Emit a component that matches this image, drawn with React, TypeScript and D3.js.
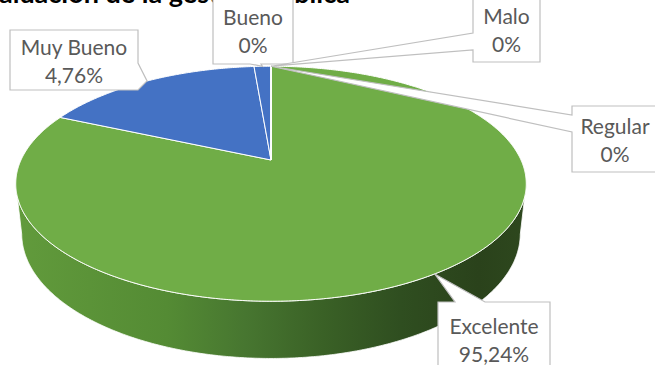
import React from 'react';
import * as d3 from 'd3';

// ---- data ----
const categories = ['Excelente', 'Muy Bueno', 'Bueno', 'Regular', 'Malo'];
// slice sizes as drawn in the reference picture (share of the disk)
const sliceValues = [81.7, 17.0, 1.3, 0, 0];
// percentage texts shown in the callouts
const labelTexts = ['95,24%', '4,76%', '0%', '0%', '0%'];
const sliceColors = ['#70ad47', '#4472c4', '#4472c4', '#a5a5a5', '#ffc000'];
const titleText = 'Evaluación de la gestión pública';

// ---- layout ----
const W = 655;
const H = 365;
const CX = 271;
const CY = 160;
const PHI = (26.8 * Math.PI) / 180;
const DIST = 4.42;
const FOCAL = 1105;
const DEPTH = 0.225;

// callout boxes (layout only), one per category
const callouts = [
  { x: 438, y: 302, w: 112, h: 74, side: 'top', a: 455, b: 485 },
  { x: 10, y: 30, w: 128, h: 60, side: 'right', a: 63, b: 90 },
  { x: 213, y: -4, w: 80, h: 68, side: 'bottom', a: 250, b: 261 },
  { x: 572, y: 106, w: 86, h: 66, side: 'left', a: 115, b: 132 },
  { x: 473, y: -4, w: 67, h: 66, side: 'left', a: 33, b: 50 },
];

function project(theta: number, yw: number): [number, number] {
  const X = Math.sin(theta);
  const Z = Math.cos(theta);
  const s = Math.sin(PHI);
  const c = Math.cos(PHI);
  const yc = Z * s + yw * c;
  const dep = DIST + Z * c - yw * s;
  return [CX + (FOCAL * X) / dep, CY - (FOCAL * yc) / dep];
}
function projectCenter(yw: number): [number, number] {
  const s = Math.sin(PHI);
  const c = Math.cos(PHI);
  const dep = DIST - yw * s;
  return [CX, CY - (FOCAL * yw * c) / dep];
}

function rimPoints(a0: number, a1: number, yw: number) {
  const pts: [number, number][] = [];
  const n = Math.max(2, Math.ceil(Math.abs(a1 - a0) / (Math.PI / 360)));
  for (let i = 0; i <= n; i++) pts.push(project(a0 + ((a1 - a0) * i) / n, yw));
  return pts;
}

function calloutPath(cfg: any, tip: [number, number]) {
  const { x, y, w, h, side, a, b } = cfg;
  const p = d3.path();
  p.moveTo(x, y);
  if (side === 'top') {
    p.lineTo(a, y);
    p.lineTo(tip[0], tip[1]);
    p.lineTo(b, y);
  }
  p.lineTo(x + w, y);
  if (side === 'right') {
    p.lineTo(x + w, a);
    p.lineTo(tip[0], tip[1]);
    p.lineTo(x + w, b);
  }
  p.lineTo(x + w, y + h);
  if (side === 'bottom') {
    p.lineTo(b, y + h);
    p.lineTo(tip[0], tip[1]);
    p.lineTo(a, y + h);
  }
  p.lineTo(x, y + h);
  if (side === 'left') {
    p.lineTo(x, b);
    p.lineTo(tip[0], tip[1]);
    p.lineTo(x, a);
  }
  p.closePath();
  return p.toString();
}

export default function App() {
  const pie = d3
    .pie<number>()
    .sort(null)
    .startAngle(0)
    .endAngle(2 * Math.PI)(sliceValues);

  const line = d3.line();

  // silhouette of the cylinder side
  const cRatio = Math.cos(PHI) / DIST;
  const silR = Math.acos(-cRatio);
  const silL = 2 * Math.PI - silR;

  const sides: { d: string; i: number }[] = [];
  pie.forEach((sl, i) => {
    const a0 = Math.max(sl.startAngle, silR);
    const a1 = Math.min(sl.endAngle, silL);
    if (a1 > a0) {
      const top = rimPoints(a0, a1, 0);
      const bot = rimPoints(a1, a0, -DEPTH);
      sides.push({ d: line([...top, ...bot])! + 'Z', i });
    }
  });

  const tops = pie.map((sl, i) => {
    const c = projectCenter(0);
    const pts = [c, ...rimPoints(sl.startAngle, sl.endAngle, 0)];
    return { d: line(pts)! + 'Z', i };
  });

  const font = 'Lato, "Open Sans", sans-serif';

  return (
    <div style={{ position: 'absolute', left: 0, top: 0, width: W, height: H }}>
      <svg width={W} height={H} style={{ display: 'block', background: '#ffffff' }}>
        <defs>
          <linearGradient id="sideGreen" gradientUnits="userSpaceOnUse" x1={12} y1={0} x2={530} y2={0}>
            <stop offset="0" stopColor="#629b3c" />
            <stop offset="0.3" stopColor="#548b34" />
            <stop offset="0.45" stopColor="#477630" />
            <stop offset="0.6" stopColor="#3a6126" />
            <stop offset="0.75" stopColor="#2f4e20" />
            <stop offset="0.9" stopColor="#2a421b" />
            <stop offset="1" stopColor="#2e481e" />
          </linearGradient>
          <linearGradient id="sideBlue" gradientUnits="userSpaceOnUse" x1={12} y1={0} x2={530} y2={0}>
            <stop offset="0" stopColor="#3d66b0" />
            <stop offset="1" stopColor="#1f3a6a" />
          </linearGradient>
        </defs>
        <text x={-30} y={3} fontFamily={font} fontWeight={700} fontSize={27} fill="#000000">
          {titleText}
        </text>
        {sides.map((s) => (
          <path
            key={'s' + s.i}
            d={s.d}
            fill={s.i === 0 ? 'url(#sideGreen)' : 'url(#sideBlue)'}
            stroke="#ffffff"
            strokeWidth={0.8}
            strokeLinejoin="round"
          />
        ))}
        {tops.map((t) => (
          <path
            key={'t' + t.i}
            d={t.d}
            fill={sliceColors[t.i]}
            stroke="#ffffff"
            strokeWidth={1}
            strokeLinejoin="round"
          />
        ))}
        {pie.map((sl, i) => {
          const cfg = callouts[i];
          const mid = (sl.startAngle + sl.endAngle) / 2;
          const tip = project(mid, 0);
          const cxText = cfg.x + cfg.w / 2;
          const cyText = cfg.y + cfg.h / 2;
          return (
            <g key={'c' + i}>
              <path d={calloutPath(cfg, tip)} fill="#ffffff" stroke="#bfbfbf" strokeWidth={1.2} />
              <text
                x={cxText}
                y={cyText - 14}
                textAnchor="middle"
                dominantBaseline="central"
                fontFamily={font}
                fontSize={21}
                fill="#595959"
              >
                {categories[i]}
              </text>
              <text
                x={cxText}
                y={cyText + 14}
                textAnchor="middle"
                dominantBaseline="central"
                fontFamily={font}
                fontSize={21}
                fill="#595959"
              >
                {labelTexts[i]}
              </text>
            </g>
          );
        })}
      </svg>
    </div>
  );
}
